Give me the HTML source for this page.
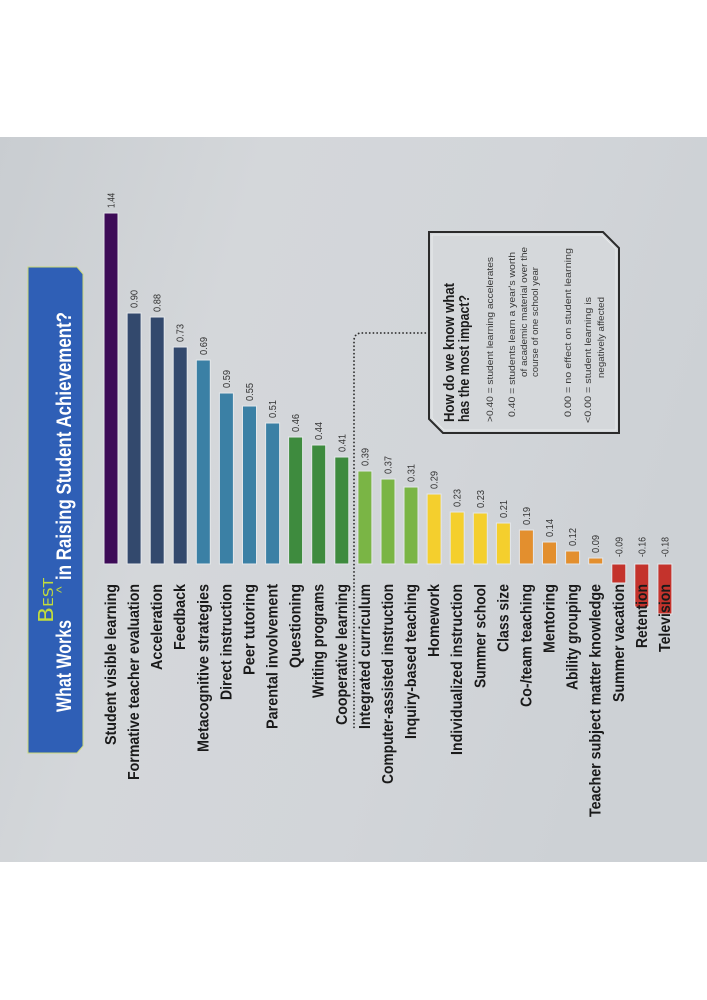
<!DOCTYPE html>
<html><head><meta charset="utf-8"><style>
html,body{margin:0;padding:0;background:#fff;}
svg{display:block;}
.lb{font-family:"Liberation Sans Narrow","Liberation Sans",sans-serif;font-weight:bold;font-size:16px;fill:#1a1a1a;}
.vl{font-family:"Liberation Sans Narrow","Liberation Sans",sans-serif;font-size:10px;fill:#333;}
.bx{font-family:"Liberation Sans Narrow","Liberation Sans",sans-serif;font-size:9px;fill:#3a3a3a;}
.bh{font-family:"Liberation Sans Narrow","Liberation Sans",sans-serif;font-weight:bold;font-size:15px;fill:#1c1c1c;}
.tt{font-family:"Liberation Sans Narrow","Liberation Sans",sans-serif;font-weight:bold;font-size:21px;fill:#fff;}
</style></head><body>
<svg width="707" height="1000" viewBox="0 0 707 1000" xmlns="http://www.w3.org/2000/svg">
<defs>
<linearGradient id="bg" x1="0" y1="0" x2="1" y2="0.3">
<stop offset="0" stop-color="#c9cdd1"/>
<stop offset="0.35" stop-color="#d4d7da"/>
<stop offset="0.7" stop-color="#d2d5d9"/>
<stop offset="1" stop-color="#cdd1d5"/>
</linearGradient>
</defs>
<rect x="0" y="0" width="707" height="1000" fill="#fff"/>
<rect x="0" y="137" width="707" height="725" fill="url(#bg)"/>

<!-- Title banner -->
<polygon points="28,267 77,267 83,274 83,746 77,753 28,753" fill="#2f5fb6" stroke="#c9d77a" stroke-width="1"/>
<text class="tt" transform="translate(71,712) rotate(-90)" textLength="92" lengthAdjust="spacingAndGlyphs">What Works</text>
<text transform="translate(66,593) rotate(-90)" style="font-family:'Liberation Sans',sans-serif;font-size:14px;fill:#c2dc3c;">^</text>
<text class="tt" transform="translate(71,580) rotate(-90)" textLength="268" lengthAdjust="spacingAndGlyphs">in Raising Student Achievement?</text>
<text transform="translate(53,623) rotate(-90)" style="font-family:'DejaVu Sans',sans-serif;fill:#c2dc3c;" textLength="45" lengthAdjust="spacingAndGlyphs"><tspan style="font-size:20px">B</tspan><tspan style="font-size:13px">EST</tspan></text>

<!-- Dotted connector -->
<path d="M429,333 H362 Q354,333 354,341 V728" fill="none" stroke="#2e2e2e" stroke-width="1.8" stroke-dasharray="0.1 3.6" stroke-linecap="round"/>

<!-- Info box -->
<polygon points="429,232 603,232 619,248 619,433 443,433 429,419" fill="#d5d8db" stroke="#2b2b2b" stroke-width="2"/>
<polygon points="432,235 602,235 616,249 616,430 444,430 432,418" fill="none" stroke="#eef0f1" stroke-width="0.8"/>
<text class="bh" transform="translate(454,422) rotate(-90)" textLength="139" lengthAdjust="spacingAndGlyphs">How do we know what</text>
<text class="bh" transform="translate(469,422) rotate(-90)" textLength="127" lengthAdjust="spacingAndGlyphs">has the most impact?</text>
<text class="bx" transform="translate(493,422) rotate(-90)" textLength="165" lengthAdjust="spacingAndGlyphs">&gt;0.40 = student learning accelerates</text>
<text class="bx" transform="translate(515,417) rotate(-90)" textLength="165" lengthAdjust="spacingAndGlyphs">0.40 = students learn a year's worth</text>
<text class="bx" transform="translate(527,377) rotate(-90)" textLength="130" lengthAdjust="spacingAndGlyphs">of academic material over the</text>
<text class="bx" transform="translate(538,377) rotate(-90)" textLength="110" lengthAdjust="spacingAndGlyphs">course of one school year</text>
<text class="bx" transform="translate(571,417) rotate(-90)" textLength="169" lengthAdjust="spacingAndGlyphs">0.00 = no effect on student learning</text>
<text class="bx" transform="translate(591,423) rotate(-90)" textLength="126" lengthAdjust="spacingAndGlyphs">&lt;0.00 = student learning is</text>
<text class="bx" transform="translate(604,378) rotate(-90)" textLength="81" lengthAdjust="spacingAndGlyphs">negatively affected</text>

<!-- Bars -->
<g stroke="#e4e7ea" stroke-width="1">
<rect x="104" y="213" width="14" height="351" fill="#3d0b57"/>
<rect x="127.1" y="313" width="14" height="251" fill="#33496d"/>
<rect x="150.2" y="317" width="14" height="247" fill="#33496d"/>
<rect x="173.2" y="347" width="14" height="217" fill="#33496d"/>
<rect x="196.3" y="360" width="14" height="204" fill="#3b80a5"/>
<rect x="219.4" y="393" width="14" height="171" fill="#3b80a5"/>
<rect x="242.5" y="406" width="14" height="158" fill="#3b80a5"/>
<rect x="265.6" y="423" width="14" height="141" fill="#3b80a5"/>
<rect x="288.6" y="437" width="14" height="127" fill="#3e8b3e"/>
<rect x="311.7" y="445" width="14" height="119" fill="#3e8b3e"/>
<rect x="334.8" y="457" width="14" height="107" fill="#3e8b3e"/>
<rect x="357.9" y="471" width="14" height="93" fill="#7ab545"/>
<rect x="381" y="479" width="14" height="85" fill="#7ab545"/>
<rect x="404" y="487" width="14" height="77" fill="#7ab545"/>
<rect x="427.1" y="494" width="14" height="70" fill="#f4cf2d"/>
<rect x="450.2" y="512" width="14" height="52" fill="#f4cf2d"/>
<rect x="473.3" y="513" width="14" height="51" fill="#f4cf2d"/>
<rect x="496.4" y="523" width="14" height="41" fill="#f4cf2d"/>
<rect x="519.4" y="530" width="14" height="34" fill="#e38f2e"/>
<rect x="542.5" y="542" width="14" height="22" fill="#e38f2e"/>
<rect x="565.6" y="551" width="14" height="13" fill="#e38f2e"/>
<rect x="588.7" y="558" width="14" height="6" fill="#e38f2e"/>
<rect x="611.8" y="564" width="14" height="19" fill="#c4332c"/>
<rect x="634.8" y="564" width="14" height="43" fill="#c4332c"/>
<rect x="657.9" y="564" width="14" height="50" fill="#c4332c"/>
</g>

<!-- Value labels (text starts 5px above bar top, reads upward) -->
<g>
<text class="vl" transform="translate(114.5,208) rotate(-90)" textLength="15" lengthAdjust="spacingAndGlyphs">1.44</text>
<text class="vl" transform="translate(137.6,308) rotate(-90)" textLength="18" lengthAdjust="spacingAndGlyphs">0.90</text>
<text class="vl" transform="translate(160.7,312) rotate(-90)" textLength="18" lengthAdjust="spacingAndGlyphs">0.88</text>
<text class="vl" transform="translate(183.7,342) rotate(-90)" textLength="18" lengthAdjust="spacingAndGlyphs">0.73</text>
<text class="vl" transform="translate(206.8,355) rotate(-90)" textLength="18" lengthAdjust="spacingAndGlyphs">0.69</text>
<text class="vl" transform="translate(229.9,388) rotate(-90)" textLength="18" lengthAdjust="spacingAndGlyphs">0.59</text>
<text class="vl" transform="translate(253,401) rotate(-90)" textLength="18" lengthAdjust="spacingAndGlyphs">0.55</text>
<text class="vl" transform="translate(276.1,418) rotate(-90)" textLength="18" lengthAdjust="spacingAndGlyphs">0.51</text>
<text class="vl" transform="translate(299.1,432) rotate(-90)" textLength="18" lengthAdjust="spacingAndGlyphs">0.46</text>
<text class="vl" transform="translate(322.2,440) rotate(-90)" textLength="18" lengthAdjust="spacingAndGlyphs">0.44</text>
<text class="vl" transform="translate(345.3,452) rotate(-90)" textLength="18" lengthAdjust="spacingAndGlyphs">0.41</text>
<text class="vl" transform="translate(368.4,466) rotate(-90)" textLength="18" lengthAdjust="spacingAndGlyphs">0.39</text>
<text class="vl" transform="translate(391.5,474) rotate(-90)" textLength="18" lengthAdjust="spacingAndGlyphs">0.37</text>
<text class="vl" transform="translate(414.5,482) rotate(-90)" textLength="18" lengthAdjust="spacingAndGlyphs">0.31</text>
<text class="vl" transform="translate(437.6,489) rotate(-90)" textLength="18" lengthAdjust="spacingAndGlyphs">0.29</text>
<text class="vl" transform="translate(460.7,507) rotate(-90)" textLength="18" lengthAdjust="spacingAndGlyphs">0.23</text>
<text class="vl" transform="translate(483.8,508) rotate(-90)" textLength="18" lengthAdjust="spacingAndGlyphs">0.23</text>
<text class="vl" transform="translate(506.9,518) rotate(-90)" textLength="18" lengthAdjust="spacingAndGlyphs">0.21</text>
<text class="vl" transform="translate(529.9,525) rotate(-90)" textLength="18" lengthAdjust="spacingAndGlyphs">0.19</text>
<text class="vl" transform="translate(553,537) rotate(-90)" textLength="18" lengthAdjust="spacingAndGlyphs">0.14</text>
<text class="vl" transform="translate(576.1,546) rotate(-90)" textLength="18" lengthAdjust="spacingAndGlyphs">0.12</text>
<text class="vl" transform="translate(599.2,553) rotate(-90)" textLength="18" lengthAdjust="spacingAndGlyphs">0.09</text>
<text class="vl" transform="translate(622.3,557) rotate(-90)" textLength="20" lengthAdjust="spacingAndGlyphs">-0.09</text>
<text class="vl" transform="translate(645.3,557) rotate(-90)" textLength="20" lengthAdjust="spacingAndGlyphs">-0.16</text>
<text class="vl" transform="translate(668.4,557) rotate(-90)" textLength="20" lengthAdjust="spacingAndGlyphs">-0.18</text>
</g>

<!-- Category labels -->
<g text-anchor="end">
<text class="lb" transform="translate(116,584) rotate(-90)" textLength="161" lengthAdjust="spacingAndGlyphs">Student visible learning</text>
<text class="lb" transform="translate(139.1,584) rotate(-90)" textLength="196" lengthAdjust="spacingAndGlyphs">Formative teacher evaluation</text>
<text class="lb" transform="translate(162.2,584) rotate(-90)" textLength="86" lengthAdjust="spacingAndGlyphs">Acceleration</text>
<text class="lb" transform="translate(185.2,584) rotate(-90)" textLength="66" lengthAdjust="spacingAndGlyphs">Feedback</text>
<text class="lb" transform="translate(208.3,584) rotate(-90)" textLength="168" lengthAdjust="spacingAndGlyphs">Metacognitive strategies</text>
<text class="lb" transform="translate(231.4,584) rotate(-90)" textLength="116" lengthAdjust="spacingAndGlyphs">Direct instruction</text>
<text class="lb" transform="translate(254.5,584) rotate(-90)" textLength="91" lengthAdjust="spacingAndGlyphs">Peer tutoring</text>
<text class="lb" transform="translate(277.6,584) rotate(-90)" textLength="145" lengthAdjust="spacingAndGlyphs">Parental involvement</text>
<text class="lb" transform="translate(300.6,584) rotate(-90)" textLength="84" lengthAdjust="spacingAndGlyphs">Questioning</text>
<text class="lb" transform="translate(323.7,584) rotate(-90)" textLength="114" lengthAdjust="spacingAndGlyphs">Writing programs</text>
<text class="lb" transform="translate(346.8,584) rotate(-90)" textLength="141" lengthAdjust="spacingAndGlyphs">Cooperative learning</text>
<text class="lb" transform="translate(369.9,584) rotate(-90)" textLength="145" lengthAdjust="spacingAndGlyphs">Integrated curriculum</text>
<text class="lb" transform="translate(393,584) rotate(-90)" textLength="200" lengthAdjust="spacingAndGlyphs">Computer-assisted instruction</text>
<text class="lb" transform="translate(416,584) rotate(-90)" textLength="155" lengthAdjust="spacingAndGlyphs">Inquiry-based teaching</text>
<text class="lb" transform="translate(439.1,584) rotate(-90)" textLength="73" lengthAdjust="spacingAndGlyphs">Homework</text>
<text class="lb" transform="translate(462.2,584) rotate(-90)" textLength="171" lengthAdjust="spacingAndGlyphs">Individualized instruction</text>
<text class="lb" transform="translate(485.3,584) rotate(-90)" textLength="104" lengthAdjust="spacingAndGlyphs">Summer school</text>
<text class="lb" transform="translate(508.4,584) rotate(-90)" textLength="68" lengthAdjust="spacingAndGlyphs">Class size</text>
<text class="lb" transform="translate(531.4,584) rotate(-90)" textLength="123" lengthAdjust="spacingAndGlyphs">Co-/team teaching</text>
<text class="lb" transform="translate(554.5,584) rotate(-90)" textLength="69" lengthAdjust="spacingAndGlyphs">Mentoring</text>
<text class="lb" transform="translate(577.6,584) rotate(-90)" textLength="106" lengthAdjust="spacingAndGlyphs">Ability grouping</text>
<text class="lb" transform="translate(600.7,584) rotate(-90)" textLength="233" lengthAdjust="spacingAndGlyphs">Teacher subject matter knowledge</text>
<text class="lb" transform="translate(623.8,584) rotate(-90)" textLength="118" lengthAdjust="spacingAndGlyphs">Summer vacation</text>
<text class="lb" transform="translate(646.8,584) rotate(-90)" textLength="64" lengthAdjust="spacingAndGlyphs">Retention</text>
<text class="lb" transform="translate(669.9,584) rotate(-90)" textLength="68" lengthAdjust="spacingAndGlyphs">Television</text>
</g>
</svg>
</body></html>
